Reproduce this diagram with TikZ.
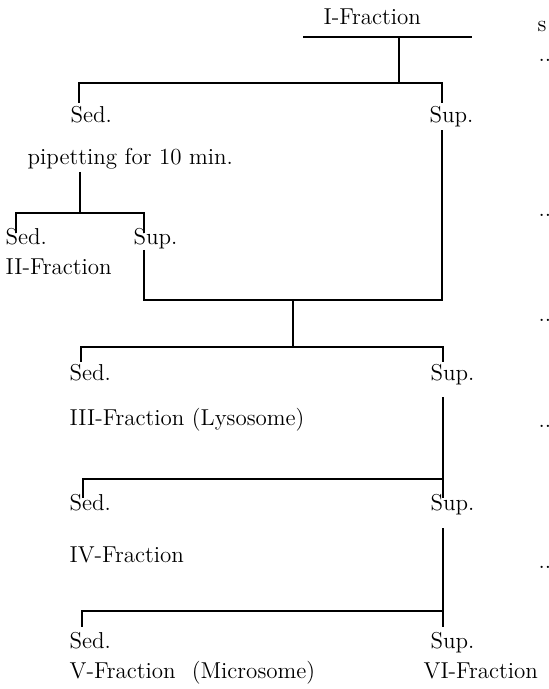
\documentclass[tikz,border=0pt]{standalone}
\usepackage{tikz}
\usetikzlibrary{positioning,calc}

\begin{document}
\begin{tikzpicture}[
  x=0.5pt,y=-0.5pt,
  every node/.style={inner sep=0pt,anchor=base west,
    font=\fontsize{11.5}{14}\selectfont},
  every path/.style={line width=0.7pt,black}
]
\useasboundingbox (0,0) rectangle (549,689);
% fractions and branches
\node (i) at (323,25) {I-Fraction};
\node (sed1) at (70,123) {Sed.};
\node (sup1) at (429,123) {Sup.};
\node (pip) at (27,165) {pipetting for 10 min.};
\node (sed2) at (5,245) {Sed.};
\node (sup2) at (133,245) {Sup.};
\node (ii) at (5,275) {II-Fraction};
\node (sed3) at (69,380) {Sed.};
\node (sup3) at (430,380) {Sup.};
\node (iii) at (69,425) {III-Fraction (Lysosome)};
\node (sed4) at (69,510) {Sed.};
\node (sup4) at (430,510) {Sup.};
\node (iv) at (69,562) {IV-Fraction};
\node (sed5) at (69,648) {Sed.};
\node (sup5) at (430,648) {Sup.};
\node (v) at (69,678) {V-Fraction\hspace{0.7em}(Microsome)};
\node (vi) at (423,678) {VI-Fraction};
% cut-off column at the right edge
\node (s) at (537,32) {s};
\foreach \y [count=\k] in {61.5,216.5,321.5,427.5,568.5}
  \node (d\k) at (538,\y) {..};
% junctions
\coordinate (il) at (303,37);
\coordinate (ir) at (472,37);
\coordinate (j1) at (399,37);
\coordinate (b1) at (399,83);
\coordinate (t1) at (79,103);
\coordinate (u1) at (442,103);
\coordinate (v1) at (442,130);
\coordinate (p1) at (80,172);
\coordinate (b2) at (80,213);
\coordinate (t2) at (16,233);
\coordinate (u2) at (144,233);
\coordinate (v2) at (144,250);
\coordinate (m3) at (293,300);
\coordinate (b3) at (293,347);
\coordinate (t3) at (81,362);
\coordinate (u3) at (443,362);
\coordinate (v3) at (443,397);
\coordinate (b4) at (443,479);
\coordinate (t4) at (83,498);
\coordinate (u4) at (443,498);
\coordinate (v4) at (443,528);
\coordinate (b5) at (443,611);
\coordinate (t5) at (82,627);
\coordinate (u5) at (443,627);
% connectors
\draw (il) -- (ir);
\draw (j1) -- (b1);
\draw (t1) |- (b1) -| (u1);
\draw (p1) -- (b2);
\draw (t2) |- (b2) -| (u2);
\draw (v2) |- (m3) -| (v1);
\draw (m3) -- (b3);
\draw (t3) |- (b3) -| (u3);
\draw (v3) -- (b4) -| (t4);
\draw (b4) -- (u4);
\draw (v4) -- (b5) -| (t5);
\draw (b5) -- (u5);
\end{tikzpicture}
\end{document}
